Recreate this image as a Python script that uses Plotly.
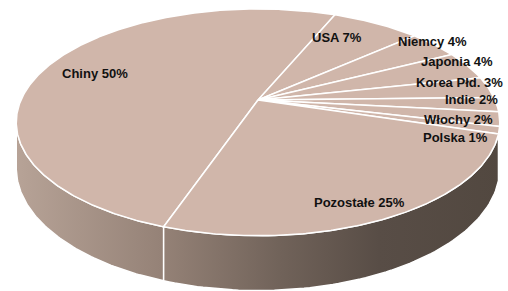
import numpy as np
import plotly.graph_objects as go

# ---- data ----
categories = ["Chiny", "USA", "Niemcy", "Japonia", "Korea Płd.", "Indie", "Włochy", "Polska", "Pozostałe"]
shares = [50, 7, 4, 4, 3, 2, 2, 1, 25]

# ---- 3D pie styling / projection parameters ----
CX, CY = 258.0, 100.0        # projected pie centre (axis units = pixels)
RX, RY = 237.0, 109.0        # radii of the top face
PERSP = 0.197                # perspective strength
DEPTH = 44.0                 # thickness of the pie
FIRST_ANGLE = 251.1          # angle of first slice start (deg, clockwise drawing)
TOP_COLOR = "#D0B6AA"
SIDE_SCALE = [[0.0, "#B7A397"], [0.3, "#958277"], [0.55, "#706259"],
              [0.75, "#584D46"], [1.0, "#524840"]]
# label placement: radial factor and angular nudge (deg) relative to slice middle
LABEL_R = [0.765, 0.753, 1.016, 0.976, 0.892, 0.903, 0.836, 0.845, 0.874]
LABEL_DA = [1.6, 5.4, 1.5, 3.0, 3.6, 2.4, -2.5, -6.9, -2.7]
FONT = dict(family="Liberation Sans, Arial, sans-serif", size=13, color="#111111")


def proj(theta_deg, r=1.0, z=0.0):
    t = np.radians(theta_deg)
    u = r * np.cos(t)
    v = r * np.sin(t)
    s = 1.0 / (1.0 + PERSP * v)
    return CX + RX * u * s, CY - RY * v * s + DEPTH * z * s


total = float(sum(shares))
cum = np.concatenate([[0.0], np.cumsum(shares)])
edges = FIRST_ANGLE - cum * 360.0 / total   # decreasing (clockwise)

fig = go.Figure()

# ---- visible side (front arc) ----
tang = np.degrees(np.arcsin(PERSP))
front_lo, front_hi = 180.0 + tang, 360.0 - tang
for i in range(len(shares)):
    hi, lo = edges[i], edges[i + 1]
    for shift in (-360.0, 0.0, 360.0):
        a1 = max(lo + shift, front_lo)
        a2 = min(hi + shift, front_hi)
        if a2 > a1:
            ang = np.linspace(a1, a2, 80)
            tx, ty = proj(ang)
            bx, by = proj(ang[::-1], z=1.0)
            x = np.concatenate([tx, bx, tx[:1]])
            y = np.concatenate([ty, by, ty[:1]])
            fig.add_trace(go.Scatter(
                x=x, y=y, mode="lines", fill="toself",
                line=dict(color="white", width=1.5),
                fillgradient=dict(type="horizontal", colorscale=SIDE_SCALE,
                                  start=CX - RX * 1.02, stop=CX + RX * 1.02),
                hoverinfo="skip", showlegend=False))

# ---- top slices ----
for i in range(len(shares)):
    hi, lo = edges[i], edges[i + 1]
    ang = np.linspace(hi, lo, max(8, int((hi - lo) * 2)))
    rx, ry = proj(ang)
    x = np.concatenate([[CX], rx, [CX]])
    y = np.concatenate([[CY], ry, [CY]])
    fig.add_trace(go.Scatter(
        x=x, y=y, mode="lines", fill="toself", fillcolor=TOP_COLOR,
        line=dict(color="white", width=1.5),
        name=categories[i], hoverinfo="name", showlegend=False))

# ---- labels ----
mids = (edges[:-1] + edges[1:]) / 2.0
for i in range(len(shares)):
    lx, ly = proj(mids[i] + LABEL_DA[i], LABEL_R[i])
    fig.add_annotation(x=lx, y=ly, text=f"<b>{categories[i]} {shares[i]}%</b>",
                       showarrow=False, font=FONT, xanchor="center", yanchor="middle")

fig.update_layout(
    width=508, height=291, margin=dict(l=0, r=0, t=0, b=0),
    paper_bgcolor="white", plot_bgcolor="white",
    xaxis=dict(range=[0, 508], visible=False, fixedrange=True),
    yaxis=dict(range=[291, 0], visible=False, fixedrange=True),
)
fig.write_html("out.html", config={"displayModeBar": False},
               post_script="document.body.style.margin='0';document.body.style.overflow='hidden';")
